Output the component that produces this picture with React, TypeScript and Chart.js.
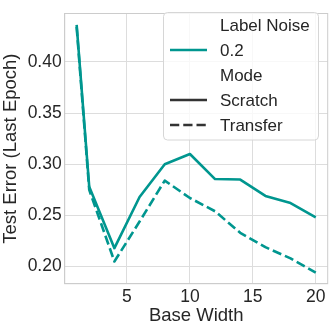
import React, { useEffect, useRef } from "react";
import { Chart, registerables } from "chart.js";

Chart.register(...registerables);

const baseWidths = [1, 2, 4, 6, 8, 10, 12, 14, 16, 18, 20];
const scratchErr = [0.436, 0.278, 0.218, 0.268, 0.3, 0.31, 0.2855, 0.285, 0.269, 0.262, 0.248];
const transferErr = [0.434, 0.275, 0.205, 0.244, 0.284, 0.267, 0.254, 0.233, 0.219, 0.208, 0.194];
const xTicks = [5, 10, 15, 20];
const yTicks = [0.2, 0.25, 0.3, 0.35, 0.4];
const legendTitles = ["Label Noise", "Mode"];
const noiseLevels = ["0.2"];
const modes = ["Scratch", "Transfer"];

const TEAL = "#00968f";
const DARK = "#333333";
const TEXT = "#262626";
const GRID = "#dddddd";
const SPINE = "#cccccc";
const FONT = "'Liberation Sans', Arial, sans-serif";

const framePlugin = {
  id: "frame",
  beforeDatasetsDraw(chart: any) {
    const { ctx, chartArea: a } = chart;
    ctx.save();
    ctx.strokeStyle = SPINE;
    ctx.lineWidth = 1;
    ctx.strokeRect(a.left, a.top, a.right - a.left, a.bottom - a.top);
    ctx.restore();
  },
};

const legendPlugin = {
  id: "customLegend",
  afterDraw(chart: any) {
    const { ctx } = chart;
    const bx = 163.5, by = 12.5, bw = 155, bh = 127.5, r = 4;
    ctx.save();
    ctx.beginPath();
    ctx.moveTo(bx + r, by);
    ctx.arcTo(bx + bw, by, bx + bw, by + bh, r);
    ctx.arcTo(bx + bw, by + bh, bx, by + bh, r);
    ctx.arcTo(bx, by + bh, bx, by, r);
    ctx.arcTo(bx, by, bx + bw, by, r);
    ctx.closePath();
    ctx.fillStyle = "rgba(255,255,255,0.8)";
    ctx.fill();
    ctx.strokeStyle = "#d6d6d6";
    ctx.lineWidth = 1;
    ctx.stroke();

    const rows: { label: string; color?: string; dash?: number[] }[] = [
      { label: legendTitles[0] },
      { label: noiseLevels[0], color: TEAL, dash: [] },
      { label: legendTitles[1] },
      { label: modes[0], color: DARK, dash: [] },
      { label: modes[1], color: DARK, dash: [9.25, 4] },
    ];
    ctx.font = `17px ${FONT}`;
    ctx.textBaseline = "middle";
    ctx.textAlign = "left";
    rows.forEach((row, i) => {
      const y = 25 + i * 25;
      if (row.color) {
        ctx.beginPath();
        ctx.setLineDash(row.dash || []);
        ctx.strokeStyle = row.color;
        ctx.lineWidth = 2.6;
        ctx.lineCap = "butt";
        ctx.moveTo(170, y);
        ctx.lineTo(207, y);
        ctx.stroke();
        ctx.setLineDash([]);
      }
      ctx.fillStyle = TEXT;
      ctx.fillText(row.label, 220, y + 1);
    });
    ctx.restore();
  },
};

export default function App() {
  const ref = useRef<HTMLCanvasElement>(null);
  useEffect(() => {
    document.body.style.margin = "0";
    const chart = new Chart(ref.current as HTMLCanvasElement, {
      type: "line",
      data: {
        datasets: [
          {
            label: modes[0],
            data: baseWidths.map((x, i) => ({ x, y: scratchErr[i] })),
            borderColor: TEAL,
            borderWidth: 2.6,
            pointRadius: 0,
            tension: 0,
            fill: false,
            borderJoinStyle: "round",
          },
          {
            label: modes[1],
            data: baseWidths.map((x, i) => ({ x, y: transferErr[i] })),
            borderColor: TEAL,
            borderWidth: 2.6,
            borderDash: [9.25, 4],
            pointRadius: 0,
            tension: 0,
            fill: false,
            borderJoinStyle: "round",
          },
        ],
      },
      options: {
        responsive: false,
        animation: false,
        devicePixelRatio: 1,
        layout: { padding: { top: 4, right: 4.3, left: 0, bottom: 0 } },
        plugins: { legend: { display: false }, tooltip: { enabled: false } },
        scales: {
          x: {
            type: "linear",
            min: 0.05,
            max: 20.95,
            afterBuildTicks: (s: any) => {
              s.ticks = xTicks.map((v) => ({ value: v }));
            },
            afterFit: (s: any) => {
              s.height = 47.3;
            },
            grid: { color: GRID, drawTicks: false, lineWidth: 1 },
            border: { display: true, color: SPINE },
            ticks: {
              color: TEXT,
              padding: 3,
              font: { family: FONT, size: 17.5 },
              callback: (v: any) => String(v),
              maxRotation: 0,
            },
            title: {
              display: true,
              text: "Base Width",
              color: TEXT,
              font: { family: FONT, size: 18.5 },
              padding: { top: 0, bottom: 4 },
            },
          },
          y: {
            type: "linear",
            min: 0.1833,
            max: 0.4472,
            afterBuildTicks: (s: any) => {
              s.ticks = yTicks.map((v) => ({ value: v }));
            },
            afterFit: (s: any) => {
              s.width = 64.7;
            },
            grid: { color: GRID, drawTicks: false, lineWidth: 1 },
            border: { display: true, color: SPINE },
            ticks: {
              color: TEXT,
              padding: 3,
              font: { family: FONT, size: 17.5 },
              callback: (v: any) => Number(v).toFixed(2),
            },
            title: {
              display: true,
              text: "Test Error (Last Epoch)",
              color: TEXT,
              font: { family: FONT, size: 18.5 },
              padding: { top: 0, bottom: 0 },
            },
          },
        },
      },
      plugins: [framePlugin, legendPlugin],
    } as any);
    return () => chart.destroy();
  }, []);
  return (
    <div style={{ position: "absolute", left: 0, top: 0, width: 332, height: 331 }}>
      <canvas ref={ref} width={332} height={331} />
    </div>
  );
}
